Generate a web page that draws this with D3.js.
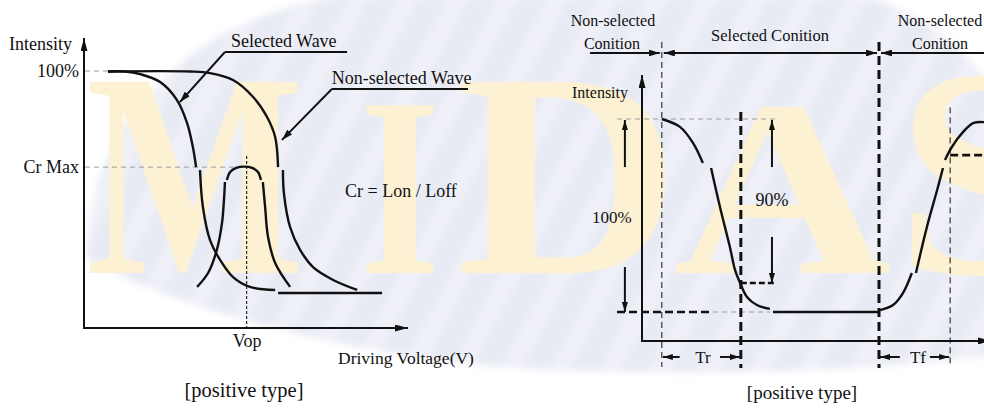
<!DOCTYPE html>
<html><head><meta charset="utf-8">
<script src="https://cdn.jsdelivr.net/npm/d3@7"></script>
<style>html,body{margin:0;padding:0;background:#fff;overflow:hidden}</style>
</head><body>
<svg id="c" width="984" height="409"></svg>
<script>
// ===== Left chart: intensity vs driving voltage (x 0–100, y intensity % 0–100)
const leftTickValues = [100, 62.6];
const leftTickLabels = ["100%", "Cr Max"];
const vop = 50.2;
const vopLabel = "Vop";
const selectedWave1 = [[7.4,99.8],[12.7,99.8],[17.3,98.8],[23.5,95.7],[28.7,88.7],[31.8,79.8],[33.6,70.4],[34.6,62.6]];
const selectedWave2 = [[35.8,61.5],[36.7,47.1],[38.9,34.2],[42.0,26.5],[46.0,19.8],[51.2,16.0],[59.0,14.8]];
const nonSelectedWave1 = [[7.4,99.8],[32.7,99.8],[38.9,99.2],[46.0,96.5],[52.2,89.9],[56.5,82.1],[59.0,74.3],[59.9,62.6]];
const nonSelectedWave2 = [[61.4,61.5],[61.7,52.5],[63.6,39.3],[66.7,30.4],[70.7,23.7],[76.9,18.7],[84.3,14.8]];
const offLevel = [[59.9,13.6],[92.0,13.6]];
const crLeft = [[34.9,16.0],[38.3,21.4],[41.0,30.4],[42.6,40.9],[43.2,49.8],[43.5,56.8]];
const crTop = [[44.1,57.6],[45.1,60.7],[47.0,62.3],[49.4,62.8],[51.9,62.3],[53.7,60.7],[54.6,57.6]];
const crRight = [[55.2,56.8],[55.9,47.1],[56.8,35.4],[59.0,25.3],[63.6,16.0]];
const selectedCallout = {label:"Selected Wave", bar:[[43.5,107.4],[81.2,107.4]], tip:[29.6,87.9], dx:6};
const nonSelectedCallout = {label:"Non-selected Wave", bar:[[76.5,93.0],[118.5,93.0]], tip:[61.1,73.2], dx:0};

// ===== Right chart: intensity vs time (x 0–100, y intensity % 0–100)
const responseA = [[5.8,100],[11.1,95.9],[14.9,87.6],[17.8,77.2]];
const responseB = [[20.2,74.6],[22.8,54.4],[25.7,33.7],[27.2,21.8],[28.7,15.0],[30.7,7.8],[33.6,3.6],[37.4,1.6]];
const responseFlat = [[38.3,0],[69.3,0]];
const responseC = [[69.6,1.0],[73.4,3.6],[76.3,9.8],[78.9,20.2]];
const responseD = [[80.1,20.2],[83.3,44.0],[86.3,63.2],[88.0,74.6]];
const responseE = [[88.6,78.8],[90.6,85.5],[93.9,93.3],[96.8,97.9],[100,98.4]];
const selStart = 5.8, trEnd = 28.9, selEnd = 69.3, tfEnd = 90.1;
const level90 = 15.0, levelTf = 81.3;

// ===== Watermark letters
const watermarkLetters = ["M","I","D","A","S"];

const FONT = "'Liberation Serif','Times New Roman',serif";
const INK = "#111";
const svg = d3.select("#c");
const defs = svg.append("defs");

// ---- background decoration
const pat = defs.append("pattern").attr("id","stripes").attr("patternUnits","userSpaceOnUse")
  .attr("width",44).attr("height",44).attr("patternTransform","rotate(28)");
pat.append("rect").attr("width",44).attr("height",44).attr("fill","#e9ebf4");
pat.append("rect").attr("width",16).attr("height",44).attr("fill","#f0f1f8");
defs.append("filter").attr("id","soft").attr("x","-5%").attr("y","-5%").attr("width","110%").attr("height","110%")
  .append("feGaussianBlur").attr("stdDeviation",3.5);
const bg = d3.path();
bg.moveTo(86,258);
bg.bezierCurveTo(88,130,180,20,340,-4);
bg.lineTo(860,-4);
bg.bezierCurveTo(920,10,965,45,992,90);
bg.lineTo(992,355);
bg.bezierCurveTo(850,374,650,377,500,367);
bg.bezierCurveTo(330,352,160,302,86,258);
bg.closePath();
svg.append("path").attr("d",bg.toString()).attr("fill","url(#stripes)").attr("filter","url(#soft)");

// watermark: each letter fitted to its box
const wmBoxes = [[86,304,292],[360,440,256],[456,680,292],[673,891,252],[896,1062,298]];
const wm = svg.append("g").attr("fill","#fcf2d3").attr("font-family",FONT).attr("font-weight","bold");
watermarkLetters.forEach((ch,i)=>{
  const b = wmBoxes[i];
  wm.append("text").attr("x",b[0]).attr("y",273).attr("font-size",b[2])
    .attr("textLength",b[1]-b[0]).attr("lengthAdjust","spacingAndGlyphs").text(ch);
});

// ---- markers
function marker(id,len,half){
  defs.append("marker").attr("id",id).attr("viewBox",`0 ${-half} ${len} ${2*half}`)
    .attr("refX",len).attr("refY",0).attr("markerWidth",len).attr("markerHeight",2*half)
    .attr("markerUnits","userSpaceOnUse").attr("orient","auto-start-reverse")
    .append("path").attr("d",`M0,${-half}L${len},0L0,${half}Z`).attr("fill",INK);
}
marker("axisHead",13,3.5);
marker("head",11,3.4);
marker("smallHead",10,3);

function txt(g,x,y,s,size,anchor){
  return g.append("text").attr("x",x).attr("y",y).attr("font-family",FONT).attr("font-size",size)
    .attr("text-anchor",anchor||"start").attr("fill",INK).text(s);
}
function seg(g,x1,y1,x2,y2,opt){
  const l = g.append("line").attr("x1",x1).attr("y1",y1).attr("x2",x2).attr("y2",y2)
    .attr("stroke",opt.color||INK).attr("stroke-width",opt.w||1);
  if(opt.dash) l.attr("stroke-dasharray",opt.dash);
  if(opt.end) l.attr("marker-end",`url(#${opt.end})`);
  if(opt.start) l.attr("marker-start",`url(#${opt.start})`);
  return l;
}

// ===== LEFT CHART
const xL = d3.scaleLinear([0,100],[84,408]);
const yL = d3.scaleLinear([0,100],[328,71]);
const gL = svg.append("g");
const lineL = d3.line().x(d=>xL(d[0])).y(d=>yL(d[1])).curve(d3.curveCatmullRom.alpha(0.5));

// guides
seg(gL,xL(0)+1,yL(100),xL(7.4),yL(100),{color:"#9a9a9a",dash:"5,4"});
seg(gL,xL(0)+1,yL(leftTickValues[1]),xL(vop),yL(leftTickValues[1]),{color:"#9a9a9a",dash:"5,4"});
seg(gL,xL(vop),yL(66.9),xL(vop),yL(0),{dash:"3,2",w:1.1});

// axes
gL.append("g").attr("transform",`translate(${xL(0)},0)`)
  .call(d3.axisLeft(yL).tickValues(leftTickValues).tickFormat((d,i)=>leftTickLabels[i]).tickSize(0).tickPadding(5))
  .call(g=>g.select(".domain").remove())
  .selectAll("text").attr("font-family",FONT).attr("font-size",18).attr("fill",INK);
gL.append("g").attr("transform",`translate(0,${yL(0)})`)
  .call(d3.axisBottom(xL).tickValues([vop]).tickFormat(()=>vopLabel).tickSize(0).tickPadding(6))
  .call(g=>g.select(".domain").remove())
  .selectAll("text").attr("font-family",FONT).attr("font-size",18).attr("fill",INK);
seg(gL,xL(0),yL(0)+1,xL(0),yL(112.8),{w:2,end:"axisHead"});
seg(gL,xL(0)-1,yL(0),xL(100),yL(0),{w:2,end:"axisHead"});

// curves
[selectedWave1,selectedWave2,nonSelectedWave1,nonSelectedWave2,offLevel,crLeft,crTop,crRight].forEach(d=>{
  gL.append("path").attr("d",lineL(d)).attr("fill","none").attr("stroke",INK).attr("stroke-width",2.4);
});

// callouts
[selectedCallout,nonSelectedCallout].forEach(c=>{
  seg(gL,xL(c.bar[0][0]),yL(c.bar[0][1]),xL(c.bar[1][0]),yL(c.bar[1][1]),{w:2});
  seg(gL,xL(c.bar[0][0]),yL(c.bar[0][1]),xL(c.tip[0]),yL(c.tip[1]),{w:2,end:"head"});
  txt(gL,xL(c.bar[0][0])+c.dx,yL(c.bar[0][1])-5,c.label,18);
});
txt(gL,345,197,"Cr = Lon / Loff",18);
txt(gL,9,50,"Intensity",18);
txt(gL,338,364,"Driving Voltage(V)",17.5);
txt(gL,244,397,"[positive type]",20.5,"middle");

// ===== RIGHT CHART
const xR = d3.scaleLinear([0,100],[642,984]);
const yR = d3.scaleLinear([0,100],[312,119]);
const gR = svg.append("g");
const lineR = d3.line().x(d=>xR(d[0])).y(d=>yR(d[1])).curve(d3.curveCatmullRom.alpha(0.5));

// guide lines
seg(gR,xR(-7.3),yR(100),xR(39.8),yR(100),{color:"#9a9a9a",dash:"5,4"});
seg(gR,xR(20.8),yR(0),xR(37.4),yR(0),{color:"#9a9a9a",dash:"5,4"});
seg(gR,xR(-7.3),yR(0),xR(20.8),yR(0),{w:2.6,dash:"8,4"});
seg(gR,xR(trEnd),yR(level90),xR(38.9),yR(level90),{w:2.6,dash:"6,3"});
seg(gR,xR(tfEnd),yR(levelTf),xR(101),yR(levelTf),{w:2.6,dash:"8,4"});
seg(gR,xR(selStart),yR(139.9),xR(selStart),yR(-28.5),{w:1,dash:"6,4"});
seg(gR,xR(tfEnd),yR(106),xR(tfEnd),yR(-28.5),{w:1,dash:"6,4"});
seg(gR,xR(trEnd),yR(103.6),xR(trEnd),yR(-29),{w:3,dash:"9,5"});
seg(gR,xR(selEnd),yR(139.9),xR(selEnd),yR(-29),{w:3,dash:"9,5"});

// axes
seg(gR,xR(0),yR(-15)+1,xR(0),yR(122.8),{w:2,end:"axisHead"});
seg(gR,xR(0)-1,yR(-15),xR(102),yR(-15),{w:2,end:"axisHead"});

// response curve
[responseA,responseB,responseFlat,responseC,responseD,responseE].forEach(d=>{
  gR.append("path").attr("d",lineR(d)).attr("fill","none").attr("stroke",INK).attr("stroke-width",2.4);
});

// amplitude arrows
seg(gR,xR(-5),yR(75.1),xR(-5),yR(99.5),{w:2,end:"smallHead"});
seg(gR,xR(-5),yR(23.3),xR(-5),yR(0),{w:2,end:"smallHead"});
seg(gR,xR(38.0),yR(75.1),xR(38.0),yR(99.5),{w:2,end:"smallHead"});
seg(gR,xR(38.0),yR(38.9),xR(38.0),yR(level90),{w:2,end:"smallHead"});
txt(gR,xR(-8.8),223,"100%",17,"middle");
txt(gR,xR(38.0),206,"90%",18,"middle");

// condition arrows (top)
const yTop = yR(134.2);
seg(gR,xR(-15.2),yTop,xR(selStart)-2,yTop,{w:2.2,end:"head"});
seg(gR,xR(selStart)+2,yTop,xR(selEnd)-2,yTop,{w:2.2,start:"head",end:"head"});
seg(gR,xR(101),yTop,xR(selEnd)+2,yTop,{w:2.2,end:"head"});
txt(gR,xR(-8.5),26,"Non-selected",16,"middle");
txt(gR,xR(-8.8),49,"Conition",16,"middle");
txt(gR,770,41,"Selected Conition",16.5,"middle");
txt(gR,940,26,"Non-selected",16,"middle");
txt(gR,940,49,"Conition",16,"middle");
txt(gR,572,98,"Intensity",16);

// Tr / Tf
const yT = yR(-23.3);
seg(gR,xR(11),yT,xR(selStart)+1,yT,{w:2,end:"smallHead"});
seg(gR,xR(22.8),yT,xR(trEnd)-1,yT,{w:2,end:"smallHead"});
txt(gR,703,363,"Tr",17,"middle");
seg(gR,xR(75.4),yT,xR(selEnd)+1,yT,{w:2,end:"smallHead"});
seg(gR,xR(84.2),yT,xR(tfEnd)-1,yT,{w:2,end:"smallHead"});
txt(gR,918,363,"Tf",17,"middle");
txt(gR,802,399,"[positive type]",19,"middle");
</script>
</body></html>
